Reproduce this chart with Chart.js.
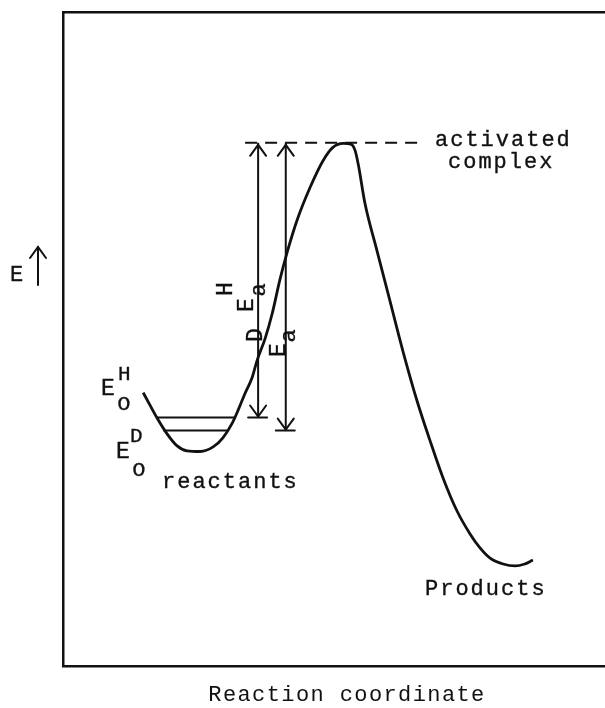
<!DOCTYPE html>
<html>
<head>
<meta charset="utf-8">
<title>Reaction coordinate</title>
<style>
  html, body { margin: 0; padding: 0; background: #fff; }
  #wrap { width: 605px; height: 708px; }
</style>
</head>
<body>
<div id="wrap"><canvas id="myChart"></canvas></div>

<script src="https://cdn.jsdelivr.net/npm/chart.js"></script>
<script>
// potential energy curve (reaction coordinate, energy) in arbitrary units 0..10
const curveX = [1.48, 1.61, 1.73, 1.92, 2.10, 2.29, 2.53, 2.77, 2.95, 3.12, 3.23, 3.36, 3.49, 3.58,
                3.73, 3.86, 4.00, 4.13, 4.32, 4.56, 4.80, 4.98, 5.17, 5.31, 5.39, 5.45, 5.57, 5.79,
                6.03, 6.27, 6.53, 6.77, 7.01, 7.27, 7.51, 7.69, 7.88, 8.12, 8.34, 8.52, 8.67];
const curveE = [4.18, 3.98, 3.80, 3.55, 3.37, 3.29, 3.28, 3.35, 3.49, 3.71, 3.91, 4.17, 4.41, 4.67,
                5.01, 5.39, 5.90, 6.31, 6.82, 7.32, 7.73, 7.93, 7.99, 7.98, 7.88, 7.66, 7.08, 6.36,
                5.59, 4.82, 4.06, 3.45, 2.88, 2.37, 2.02, 1.81, 1.65, 1.56, 1.53, 1.56, 1.62];

// zero point levels: H (upper) and D (lower)
const levelE = [3.80, 3.60];
const levelFrom = [1.72, 1.85];
const levelTo = [3.17, 3.03];

// activation energy arrows E_a^H, E_a^D
const arrowX = [3.60, 4.11];
const peakE = 8.0;
const dashFrom = 3.36, dashTo = 6.55;

const ink = '#111';

function seg(x1, y1, x2, y2) { return [{ x: x1, y: y1 }, { x: x2, y: y2 }]; }

const datasets = [
  { data: curveX.map((x, i) => ({ x: x, y: curveE[i] })), borderWidth: 2.8, cubicInterpolationMode: 'monotone' },
  { data: seg(levelFrom[0], levelE[0], levelTo[0], levelE[0]), borderWidth: 2 },
  { data: seg(levelFrom[1], levelE[1], levelTo[1], levelE[1]), borderWidth: 2 },
  { data: seg(arrowX[0], peakE, arrowX[0], levelE[0]), borderWidth: 2 },
  { data: seg(arrowX[1], peakE, arrowX[1], levelE[1]), borderWidth: 2 },
  { data: seg(dashFrom, peakE, dashTo, peakE), borderWidth: 2, borderDash: [12, 8] }
].map(d => Object.assign({ borderColor: ink, pointRadius: 0, fill: false }, d));

// little drawings the library has no element for: arrow heads, bars, texts
const extras = {
  id: 'extras',
  afterDatasetsDraw(chart) {
    const ctx = chart.ctx;
    const xs = chart.scales.x, ys = chart.scales.y;
    ctx.save();
    ctx.strokeStyle = ink;
    ctx.fillStyle = ink;
    ctx.lineWidth = 2;
    ctx.lineCap = 'round';

    function vhead(px, py, dir) { // dir -1 up, +1 down
      ctx.beginPath();
      ctx.moveTo(px - 8, py - dir * 11);
      ctx.lineTo(px, py);
      ctx.lineTo(px + 8, py - dir * 11);
      ctx.stroke();
    }
    arrowX.forEach((ax, i) => {
      const px = xs.getPixelForValue(ax);
      const top = ys.getPixelForValue(peakE) + 2;
      const bot = ys.getPixelForValue(levelE[i]);
      vhead(px, top, -1);
      vhead(px, bot - 1, 1);
      ctx.beginPath();
      ctx.moveTo(px - 10, bot);
      ctx.lineTo(px + 9, bot);
      ctx.stroke();
    });

    // E axis arrow
    ctx.beginPath();
    ctx.moveTo(38, 285);
    ctx.lineTo(38, 247);
    ctx.stroke();
    vhead(38, 247, -1);

    const font = sz => sz + 'px "Liberation Mono", "DejaVu Sans Mono", monospace';
    function typed(s, x, y, w) {
      ctx.lineWidth = w;
      ctx.fillText(s, x, y);
      if (w > 0) ctx.strokeText(s, x, y);
    }
    ctx.letterSpacing = '2px';
    const texts = [
      ['activated', 435, 146, 22], ['complex', 448, 168, 22],
      ['reactants', 162, 488, 22], ['Products', 425, 595, 22],
      ['E', 10, 281, 22],
      ['E', 101, 395, 23], ['H', 118, 380, 21], ['o', 117, 410, 23],
      ['E', 116, 458, 23], ['D', 130, 442, 21], ['o', 132, 476, 23]
    ];
    ctx.textBaseline = 'alphabetic';
    ctx.textAlign = 'left';
    texts.forEach(t => {
      ctx.font = font(t[3]);
      typed(t[0], t[1], t[2], 0.35);
    });
    ctx.letterSpacing = '1.4px';
    ctx.textAlign = 'center';
    ctx.font = font(22);
    typed('Reaction coordinate', 347, 701, 0);
    ctx.letterSpacing = '0px';

    // rotated E_a labels, read bottom to top
    const rot = [['H', 226, 289], ['E', 247, 305], ['a', 259, 290],
                 ['D', 256, 335], ['E', 279, 350], ['a', 289, 336]];
    ctx.textBaseline = 'middle';
    rot.forEach(r => {
      ctx.save();
      ctx.translate(r[1], r[2]);
      ctx.rotate(-Math.PI / 2);
      ctx.font = font(r[0] === 'a' ? 22 : 23);
      typed(r[0], 0, 0, 0.35);
      ctx.restore();
    });
    ctx.restore();
  }
};

const frame = { display: false };
const config = {
  type: 'line',
  data: { datasets: datasets },
  options: {
    responsive: true,
    maintainAspectRatio: false,
    animation: false,
    events: [],
    layout: { padding: { left: 55, top: 4, right: 0, bottom: 34 } },
    plugins: { legend: { display: false }, tooltip: { enabled: false } },
    scales: {
      x: { type: 'linear', min: 0, max: 10, grid: frame, ticks: { display: false },
           border: { color: ink, width: 2.5 } },
      x2: { type: 'linear', position: 'top', min: 0, max: 10, grid: frame, ticks: { display: false },
            border: { color: ink, width: 2.5 } },
      y: { type: 'linear', min: 0, max: 10, grid: frame, ticks: { display: false },
           border: { color: ink, width: 2.5 } }
    }
  },
  plugins: [extras]
};

const myChart = new Chart(document.getElementById('myChart'), config);
</script>
</body>
</html>
